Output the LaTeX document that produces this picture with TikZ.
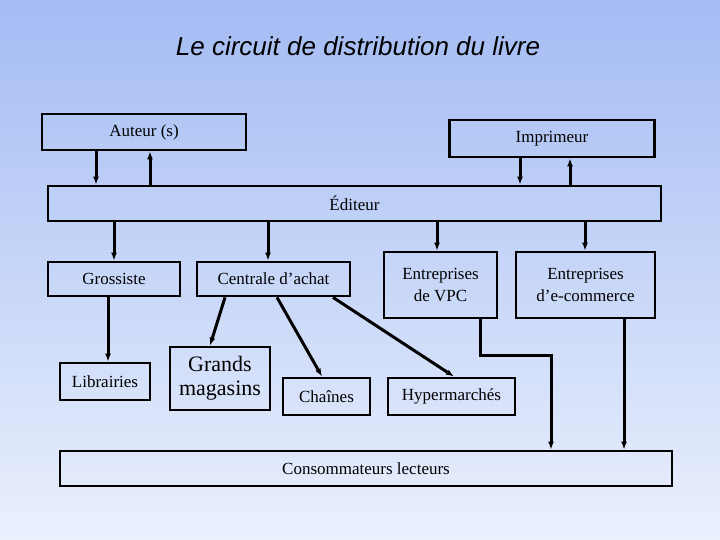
\documentclass[tikz,border=0pt]{standalone}
\usepackage{fontspec}
\setmainfont{Liberation Serif}
\newfontfamily\titlefont{Liberation Sans}
\usetikzlibrary{arrows.meta}
\tikzset{
  boite/.style={draw, line width=2.8pt, inner sep=0pt, align=center, font=\fontsize{17}{22}\selectfont},
  fleche/.style={-{Latex[length=8pt,width=6pt]}, line width=3pt},
  trait/.style={line width=3pt}
}
\begin{document}
\begin{tikzpicture}[x=1pt,y=-1pt]
\shade[top color={rgb,255:red,164;green,188;blue,244}, bottom color={rgb,255:red,234;green,240;blue,252}] (0,0) rectangle (720,540);
\useasboundingbox (0,0) rectangle (720,540);
\node (titre) at (358,46) {\titlefont\itshape\fontsize{26}{30}\selectfont Le circuit de distribution du livre};
% premiere ligne
\node[boite, minimum width=204, minimum height=36] (auteur) at (144,132) {Auteur (s)};
\node[boite, minimum width=205, minimum height=37] (imprimeur) at (552,138.5) {Imprimeur};
\node[boite, minimum width=613, minimum height=35] (editeur) at (354.5,203.5) {Éditeur};
% deuxieme ligne
\node[boite, minimum width=132, minimum height=34] (grossiste) at (114,279) {Grossiste};
\node[boite, minimum width=153, minimum height=34] (centrale) at (273.5,279) {Centrale d’achat};
\node[boite, minimum width=113, minimum height=66] (vpc) at (440.5,285) {Entreprises\\de VPC};
\node[boite, minimum width=139, minimum height=66] (ecommerce) at (585.5,285) {Entreprises\\d’e-commerce};
% troisieme ligne
\node[boite, minimum width=90, minimum height=37] (librairies) at (105,381.5) {Librairies};
\node[boite, minimum width=100, minimum height=63, font=\fontsize{22}{24}\selectfont] (grands) at (220,378.5) {Grands\\magasins};
\node[boite, minimum width=87, minimum height=37] (chaines) at (326.5,396.5) {Chaînes};
\node[boite, minimum width=127, minimum height=37] (hyper) at (451.5,396.5) {Hypermarchés};
\node[boite, minimum width=612, minimum height=35] (conso) at (366,468.5) {Consommateurs lecteurs};
% liaisons
\draw[fleche] (auteur.south -| 96,0) -- (editeur.north -| 96,0);
\draw[fleche] (editeur.north -| 150,0) -- (auteur.south -| 150,0);
\draw[fleche] (imprimeur.south -| 520,0) -- (editeur.north -| 520,0);
\draw[fleche] (editeur.north -| 570,0) -- (imprimeur.south -| 570,0);
\draw[fleche] (editeur.south -| grossiste) -- (grossiste.north);
\draw[fleche] (editeur.south -| 268,0) -- (centrale.north -| 268,0);
\draw[fleche] (editeur.south -| 437,0) -- (vpc.north -| 437,0);
\draw[fleche] (editeur.south -| 585,0) -- (ecommerce.north -| 585,0);
\draw[fleche] (grossiste.south -| 108,0) -- (librairies.north -| 108,0);
\draw[fleche] (centrale.south -| 225,0) -- (grands.north -| 210,0);
\draw[fleche] (centrale.south -| 277,0) -- (chaines.north -| 322,0);
\draw[fleche] (centrale.south -| 333,0) -- (hyper.north -| 454,0);
\coordinate (coude) at (480,355);
\draw[fleche] (vpc.south -| coude) -- (coude) -| (conso.north -| 551,0);
\draw[fleche] (ecommerce.south -| 624,0) -- (conso.north -| 624,0);
\end{tikzpicture}
\end{document}
